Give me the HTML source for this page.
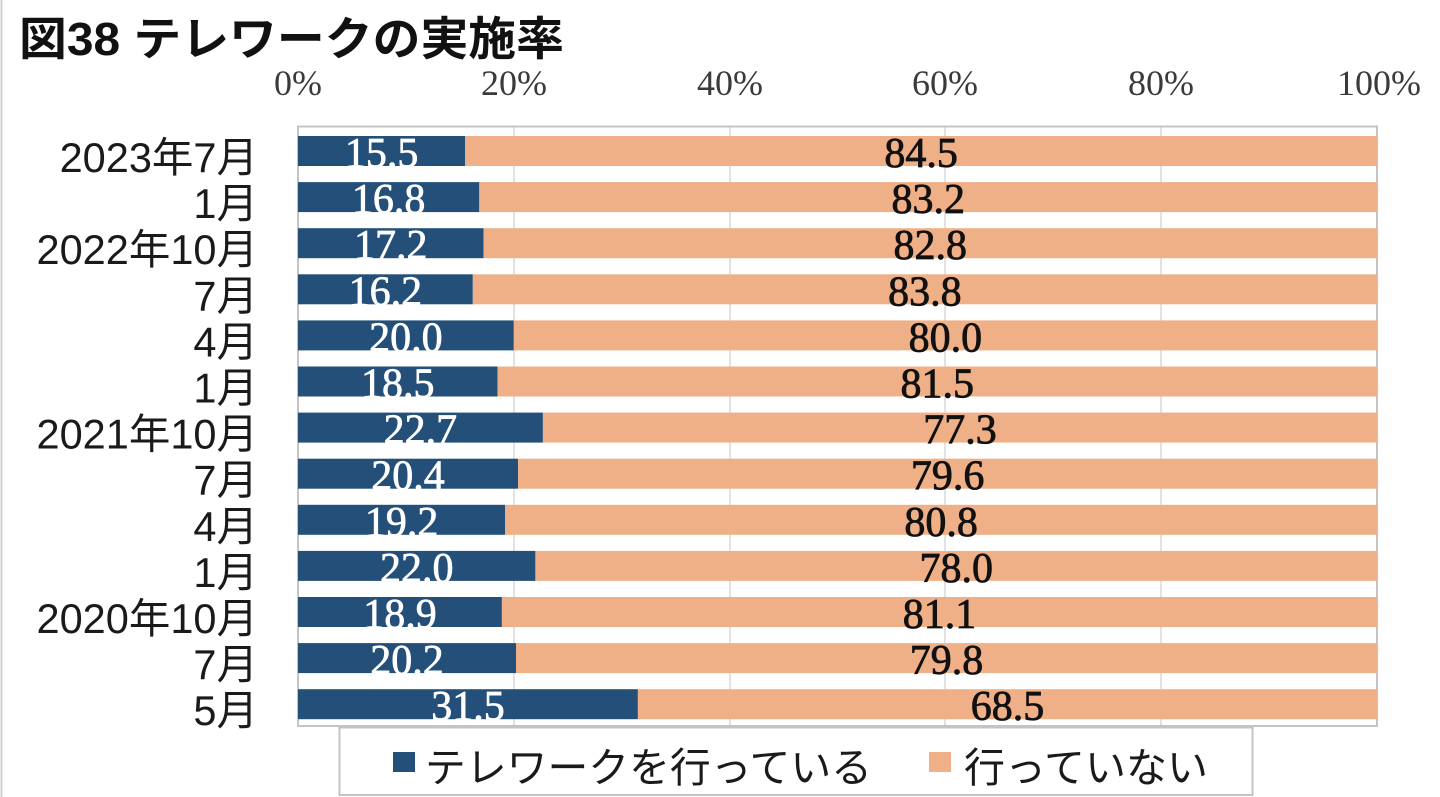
<!DOCTYPE html>
<html>
<head>
<meta charset="utf-8">
<style>
  html,body{margin:0;padding:0;background:#fff;}
  body{width:1440px;height:797px;overflow:hidden;}
  svg{display:block;}
  .jp{font-family:"Liberation Sans","Noto Sans CJK JP",sans-serif;}
  .serif{font-family:"Liberation Serif","Noto Serif CJK SC",serif;}
</style>
</head>
<body>
<svg width="1440" height="797" viewBox="0 0 1440 797" xmlns="http://www.w3.org/2000/svg">
  <rect x="0" y="0" width="1440" height="797" fill="#ffffff"/>
  <line x1="1.5" y1="0" x2="1.5" y2="797" stroke="#d0d0d0" stroke-width="2"/>

  <text class="jp" x="19" y="55" font-size="46" font-weight="bold" fill="#111" textLength="545" lengthAdjust="spacingAndGlyphs">図38 テレワークの実施率</text>

  <g class="serif" font-size="36" fill="#3a3a3a" text-anchor="middle">
    <text x="298" y="95">0%</text>
    <text x="514" y="95">20%</text>
    <text x="730" y="95">40%</text>
    <text x="945" y="95">60%</text>
    <text x="1161" y="95">80%</text>
    <text x="1379" y="95">100%</text>
  </g>

  <g stroke="#d9d9d9" stroke-width="1.5">
    <line x1="514" y1="126" x2="514" y2="726"/>
    <line x1="730" y1="126" x2="730" y2="726"/>
    <line x1="945" y1="126" x2="945" y2="726"/>
    <line x1="1161" y1="126" x2="1161" y2="726"/>
  </g>
  <rect x="298" y="126.5" width="1079" height="599.5" fill="none" stroke="#c4c4c4" stroke-width="2"/>

  <g>
    <rect x="298" y="136" width="167.2" height="30" fill="#244f79"/>
    <rect x="465.2" y="136" width="911.8" height="30" fill="#f0b087"/>
    <rect x="298" y="182.1" width="181.3" height="30" fill="#244f79"/>
    <rect x="479.3" y="182.1" width="897.7" height="30" fill="#f0b087"/>
    <rect x="298" y="228.2" width="185.6" height="30" fill="#244f79"/>
    <rect x="483.6" y="228.2" width="893.4" height="30" fill="#f0b087"/>
    <rect x="298" y="274.3" width="174.8" height="30" fill="#244f79"/>
    <rect x="472.8" y="274.3" width="904.2" height="30" fill="#f0b087"/>
    <rect x="298" y="320.4" width="215.8" height="30" fill="#244f79"/>
    <rect x="513.8" y="320.4" width="863.2" height="30" fill="#f0b087"/>
    <rect x="298" y="366.5" width="199.6" height="30" fill="#244f79"/>
    <rect x="497.6" y="366.5" width="879.4" height="30" fill="#f0b087"/>
    <rect x="298" y="412.6" width="244.9" height="30" fill="#244f79"/>
    <rect x="542.9" y="412.6" width="834.1" height="30" fill="#f0b087"/>
    <rect x="298" y="458.7" width="220.1" height="30" fill="#244f79"/>
    <rect x="518.1" y="458.7" width="858.9" height="30" fill="#f0b087"/>
    <rect x="298" y="504.8" width="207.2" height="30" fill="#244f79"/>
    <rect x="505.2" y="504.8" width="871.8" height="30" fill="#f0b087"/>
    <rect x="298" y="550.9" width="237.4" height="30" fill="#244f79"/>
    <rect x="535.4" y="550.9" width="841.6" height="30" fill="#f0b087"/>
    <rect x="298" y="597" width="203.9" height="30" fill="#244f79"/>
    <rect x="501.9" y="597" width="875.1" height="30" fill="#f0b087"/>
    <rect x="298" y="643.1" width="218" height="30" fill="#244f79"/>
    <rect x="516" y="643.1" width="861" height="30" fill="#f0b087"/>
    <rect x="298" y="689.2" width="339.9" height="30" fill="#244f79"/>
    <rect x="637.9" y="689.2" width="739.1" height="30" fill="#f0b087"/>
  </g>

  <g class="serif" font-size="42" fill="#ffffff" stroke="#ffffff" stroke-width="0.7" text-anchor="middle">
    <text x="381.6" y="167">15.5</text>
    <text x="388.6" y="213.1">16.8</text>
    <text x="390.8" y="259.2">17.2</text>
    <text x="385.4" y="305.3">16.2</text>
    <text x="405.9" y="351.4">20.0</text>
    <text x="397.8" y="397.5">18.5</text>
    <text x="420.4" y="443.6">22.7</text>
    <text x="408" y="489.7">20.4</text>
    <text x="401.6" y="535.8">19.2</text>
    <text x="416.7" y="581.9">22.0</text>
    <text x="400" y="628">18.9</text>
    <text x="407" y="674.1">20.2</text>
    <text x="468" y="720.2">31.5</text>
  </g>

  <g class="serif" font-size="42" fill="#111111" stroke="#111111" stroke-width="0.8" text-anchor="middle">
    <text x="921.1" y="167">84.5</text>
    <text x="928.2" y="213.1">83.2</text>
    <text x="930.3" y="259.2">82.8</text>
    <text x="924.9" y="305.3">83.8</text>
    <text x="945.4" y="351.4">80.0</text>
    <text x="937.3" y="397.5">81.5</text>
    <text x="960" y="443.6">77.3</text>
    <text x="947.6" y="489.7">79.6</text>
    <text x="941.1" y="535.8">80.8</text>
    <text x="956.2" y="581.9">78.0</text>
    <text x="939.5" y="628">81.1</text>
    <text x="946.5" y="674.1">79.8</text>
    <text x="1007.5" y="720.2">68.5</text>
  </g>

  <g class="jp" font-size="41.5" fill="#1a1a1a" text-anchor="end">
    <text x="258" y="172">2023年7月</text>
    <text x="258" y="218.1">1月</text>
    <text x="258" y="264.2">2022年10月</text>
    <text x="258" y="310.3">7月</text>
    <text x="258" y="356.4">4月</text>
    <text x="258" y="402.5">1月</text>
    <text x="258" y="448.6">2021年10月</text>
    <text x="258" y="494.7">7月</text>
    <text x="258" y="540.8">4月</text>
    <text x="258" y="586.9">1月</text>
    <text x="258" y="633">2020年10月</text>
    <text x="258" y="679.1">7月</text>
    <text x="258" y="725.2">5月</text>
  </g>

  <rect x="339.5" y="727.5" width="913" height="67.5" fill="#ffffff" stroke="#c4c4c4" stroke-width="2"/>
  <rect x="393" y="752" width="22" height="20" fill="#244f79"/>
  <text class="jp" x="425" y="782" font-size="41" fill="#1a1a1a" textLength="447" lengthAdjust="spacingAndGlyphs">テレワークを行っている</text>
  <rect x="929" y="752" width="22" height="20" fill="#f0b087"/>
  <text class="jp" x="964" y="782" font-size="41" fill="#1a1a1a" textLength="244" lengthAdjust="spacingAndGlyphs">行っていない</text>
</svg>
</body>
</html>
